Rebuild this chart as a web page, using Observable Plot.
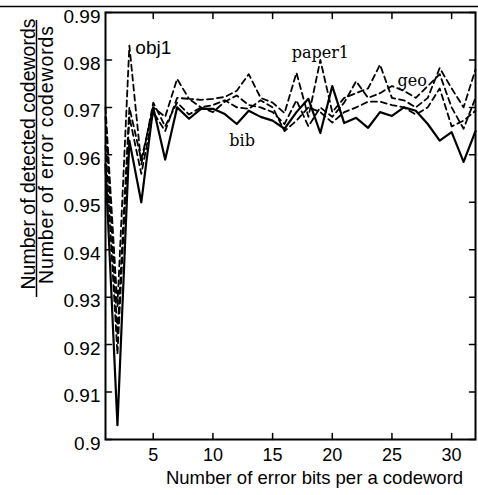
<!DOCTYPE html>
<html><head><meta charset="utf-8">
<script src="https://cdn.jsdelivr.net/npm/d3@7"></script>
<script src="https://cdn.jsdelivr.net/npm/@observablehq/plot@0.6"></script>
<style>body{margin:0;background:#fff} svg{display:block}</style>
</head><body><div id="chart"></div>
<script>
const bits = [1,2,3,4,5,6,7,8,9,10,11,12,13,14,15,16,17,18,19,20,21,22,23,24,25,26,27,28,29,30,31,32];
const bib = [0.958,0.903,0.963,0.950,0.970,0.959,0.970,0.9676,0.9697,0.9697,0.9686,0.9665,0.9693,0.9680,0.9672,0.9655,0.9690,0.9718,0.9646,0.9745,0.9667,0.9678,0.9657,0.9690,0.9682,0.9700,0.9693,0.9665,0.9630,0.9648,0.9585,0.9650];
const obj1 = [0.970,0.928,0.983,0.958,0.971,0.966,0.971,0.9685,0.9700,0.9705,0.9715,0.9700,0.9697,0.9715,0.9700,0.9650,0.9672,0.9700,0.9690,0.9668,0.9690,0.9700,0.9712,0.9712,0.9705,0.9700,0.9685,0.9700,0.9740,0.9660,0.9672,0.9693];
const paper1 = [0.968,0.922,0.970,0.959,0.970,0.968,0.976,0.9718,0.9716,0.9718,0.9722,0.9735,0.9770,0.9720,0.9710,0.9688,0.9773,0.9680,0.9800,0.9690,0.9720,0.9730,0.9740,0.9790,0.9720,0.9715,0.9700,0.9720,0.9783,0.9740,0.9700,0.9780];
const geo = [0.962,0.918,0.968,0.956,0.969,0.965,0.972,0.9718,0.9700,0.9690,0.9712,0.9725,0.9705,0.9700,0.9690,0.9665,0.9715,0.9660,0.9700,0.9680,0.9710,0.9755,0.9720,0.9730,0.9745,0.9735,0.9720,0.9745,0.9770,0.9700,0.9655,0.9720];
const xTicks = [5,10,15,20,25,30];
const yTicks = [0.9,0.91,0.92,0.93,0.94,0.95,0.96,0.97,0.98,0.99];
const labelNames = ["obj1","paper1","geo","bib"];
const labelX = [3.5,19.0,26.7,12.45];
const labelY = [0.9825,0.9815,0.9756,0.963];
const xTitle = "Number of error bits per a codeword";
const yTitleTop = "Number of detected codewords";
const yTitleBottom = "Number of error codewords";

const sans = "'Liberation Sans', Arial, sans-serif";
const toRows = vals => vals.map((v,i) => ({bits: bits[i], value: v}));
const tickShape = {draw(ctx, l){ ctx.moveTo(0,0); ctx.lineTo(0,-l); }};
const tickOpts = {length: 6, anchor: "start", shape: tickShape, stroke: "black", strokeWidth: 1.5};
const labels = labelNames.map((n,i) => ({name: n, x: labelX[i], y: labelY[i]}));

const plot = Plot.plot({
  width: 478, height: 495,
  marginLeft: 105, marginRight: 3, marginTop: 12, marginBottom: 56,
  style: {fontFamily: sans, fontSize: "18px", background: "white", color: "black"},
  x: {domain: [1, 32]},
  y: {domain: [0.9, 0.99]},
  marks: [
    Plot.axisX(xTicks, {tickSize: 0, tickPadding: 9, fontSize: 18, label: null}),
    Plot.axisY(yTicks, {tickSize: 0, tickPadding: 5, fontSize: 19, dy: 4, label: null, tickFormat: d => String(+d.toFixed(2))}),
    Plot.line(toRows(obj1), {x: "bits", y: "value", stroke: "black", strokeWidth: 1.8, strokeDasharray: "6,4"}),
    Plot.line(toRows(paper1), {x: "bits", y: "value", stroke: "black", strokeWidth: 1.8, strokeDasharray: "6,4"}),
    Plot.line(toRows(geo), {x: "bits", y: "value", stroke: "black", strokeWidth: 1.8, strokeDasharray: "6,4"}),
    Plot.line(toRows(bib), {x: "bits", y: "value", stroke: "black", strokeWidth: 2.2}),
    Plot.vector(yTicks, {x: 1, y: d => d, rotate: 90, ...tickOpts}),
    Plot.vector(yTicks, {x: 32, y: d => d, rotate: -90, ...tickOpts}),
    Plot.vector(xTicks, {x: d => d, y: 0.9, rotate: 0, ...tickOpts}),
    Plot.vector(xTicks, {x: d => d, y: 0.99, rotate: 180, ...tickOpts}),
    Plot.frame({stroke: "black", strokeWidth: 2}),
    Plot.text(labels.filter(d => d.name === "obj1"), {x: "x", y: "y", text: "name", textAnchor: "start", fontSize: 19, fontFamily: sans}),
    Plot.text(labels.filter(d => d.name !== "obj1"), {x: "x", y: "y", text: "name", fontSize: 16, fontFamily: "'DejaVu Serif', serif"}),
    Plot.text([xTitle], {frameAnchor: "bottom", dx: 24, dy: 44, fontSize: 18.5})
  ]
});
const svg = d3.select(plot);
const yt = svg.append("g").attr("font-family", sans).attr("fill", "black").attr("text-anchor", "middle");
yt.append("text").attr("transform", "translate(28,154) rotate(-90)").attr("dy", "0.35em").attr("font-size", 19.5).text(yTitleTop);
yt.append("text").attr("transform", "translate(46,155) rotate(-90)").attr("dy", "0.35em").attr("font-size", 19.5)
  .attr("textLength", 258).attr("lengthAdjust", "spacing").text(yTitleBottom);
svg.append("line").attr("x1", 36.5).attr("x2", 36.5).attr("y1", 20).attr("y2", 297).attr("stroke", "black").attr("stroke-width", 1.5);
svg.append("line").attr("x1", 0).attr("x2", 478).attr("y1", 6.5).attr("y2", 6.5).attr("stroke", "black").attr("stroke-width", 1.5);
document.getElementById("chart").appendChild(plot);
</script>
</body></html>
